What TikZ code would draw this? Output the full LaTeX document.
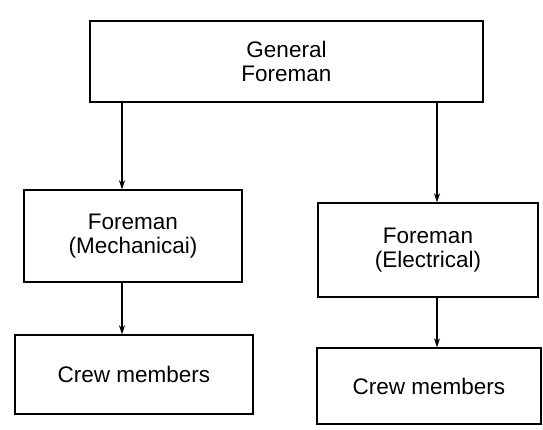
\documentclass[tikz,border=0pt]{standalone}
\usepackage{fontspec}
\setmainfont{Liberation Sans}
\usetikzlibrary{arrows.meta}
\begin{document}
\begin{tikzpicture}[x=1pt,y=1pt,
  box/.style={draw, line width=1.4pt, inner sep=0pt, align=center,
    font=\fontsize{22.5}{23.5}\selectfont},
  arr/.style={line width=1.2pt, -{Stealth[length=9pt,width=6pt]}}]
  \useasboundingbox (0,0) rectangle (543,-430);
  % organisation boxes
  \node[box, minimum width=393pt, minimum height=81pt] (gf) at (286.5,-61.5) {General\\Foreman};
  \node[box, minimum width=218pt, minimum height=92pt] (fm) at (133,-236) {Foreman\\(Mechanicai)};
  \node[box, minimum width=220pt, minimum height=94pt] (fe) at (428,-250) {Foreman\\(Electrical)};
  \node[box, minimum width=238pt, minimum height=79pt] (cm) at (134,-374.5) {Crew members};
  \node[box, minimum width=224pt, minimum height=76pt] (ce) at (429,-386) {Crew members};
  % x positions of the two reporting lines
  \coordinate (lx) at (122,0);
  \coordinate (rx) at (437,0);
  % reporting lines
  \draw[arr] (gf.south -| lx) -- (fm.north -| lx);
  \draw[arr] (gf.south -| rx) -- (fe.north -| rx);
  \draw[arr] (fm.south -| lx) -- (cm.north -| lx);
  \draw[arr] (fe.south -| rx) -- (ce.north -| rx);
\end{tikzpicture}
\end{document}
